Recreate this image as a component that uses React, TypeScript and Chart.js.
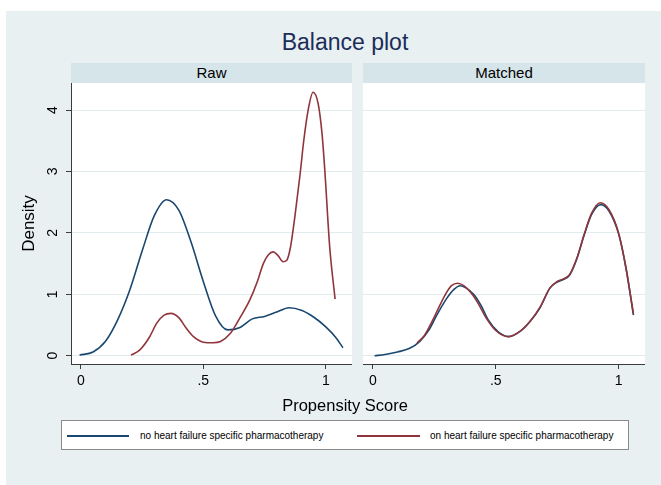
import React, { useEffect, useRef } from 'react';
import { Chart, registerables } from 'chart.js';

Chart.register(...registerables);

// ---------- text ----------
const TITLE = 'Balance plot';
const PANEL_NAMES = ['Raw', 'Matched'];
const SERIES_NAMES = [
  'no heart failure specific pharmacotherapy',
  'on heart failure specific pharmacotherapy',
];
const X_TITLE = 'Propensity Score';
const Y_TITLE = 'Density';
const X_TICKS = [0, 0.5, 1];
const X_TICK_LABELS = ['0', '.5', '1'];
const Y_TICKS = [0, 1, 2, 3, 4];

// ---------- data (kernel density estimates) ----------
// Raw, no HF pharmacotherapy
const rawNoX = [-0.005, 0.05, 0.1, 0.15, 0.2, 0.25, 0.3, 0.35, 0.4, 0.45, 0.5, 0.55, 0.6, 0.65, 0.7, 0.75, 0.8, 0.85, 0.9, 0.95, 1.0, 1.04, 1.07];
const rawNoY = [0.01, 0.06, 0.23, 0.58, 1.07, 1.7, 2.28, 2.54, 2.37, 1.85, 1.21, 0.65, 0.42, 0.46, 0.6, 0.64, 0.71, 0.78, 0.74, 0.63, 0.47, 0.3, 0.13];
// Raw, on HF pharmacotherapy
const rawOnX = [0.205, 0.24, 0.28, 0.31, 0.34, 0.368, 0.4, 0.43, 0.46, 0.5, 0.54, 0.57, 0.61, 0.65, 0.69, 0.72, 0.745, 0.765, 0.785, 0.805, 0.826, 0.84, 0.855, 0.875, 0.895, 0.91, 0.928, 0.948, 0.969, 0.985, 0.996, 1.016, 1.038];
const rawOnY = [0.01, 0.09, 0.3, 0.53, 0.66, 0.69, 0.62, 0.45, 0.31, 0.22, 0.21, 0.23, 0.36, 0.62, 0.91, 1.2, 1.5, 1.64, 1.69, 1.63, 1.53, 1.55, 1.75, 2.3, 2.95, 3.5, 4.0, 4.29, 4.1, 3.6, 3.02, 1.77, 0.92];
// Matched, no HF pharmacotherapy
const matNoX = [0.007, 0.05, 0.1, 0.15, 0.19, 0.23, 0.26, 0.3, 0.33, 0.355, 0.38, 0.41, 0.44, 0.47, 0.51, 0.554, 0.6, 0.64, 0.68, 0.72, 0.75, 0.775, 0.8, 0.83, 0.86, 0.89, 0.927, 0.96, 1.0, 1.03, 1.06];
const matNoY = [0.0, 0.02, 0.06, 0.12, 0.23, 0.43, 0.66, 0.93, 1.08, 1.14, 1.1, 1.0, 0.82, 0.58, 0.39, 0.31, 0.4, 0.56, 0.78, 1.1, 1.2, 1.24, 1.31, 1.58, 1.97, 2.3, 2.46, 2.36, 1.98, 1.42, 0.66];
// Matched, on HF pharmacotherapy
const matOnX = [0.18, 0.21, 0.24, 0.27, 0.3, 0.32, 0.345, 0.37, 0.4, 0.43, 0.46, 0.5, 0.55, 0.6, 0.64, 0.68, 0.72, 0.75, 0.775, 0.8, 0.83, 0.86, 0.89, 0.925, 0.96, 1.0, 1.03, 1.06];
const matOnY = [0.21, 0.33, 0.55, 0.8, 1.03, 1.14, 1.18, 1.14, 1.02, 0.84, 0.62, 0.41, 0.31, 0.4, 0.56, 0.79, 1.1, 1.21, 1.25, 1.32, 1.59, 1.98, 2.32, 2.49, 2.38, 1.99, 1.42, 0.68];

// ---------- styles ----------
const FONT = '"Liberation Sans", Arial, Helvetica, sans-serif';
const BLUE = '#1A476F';
const RED = '#90353B';
const BG = '#E8F0F2';
const STRIP = '#D5E5EA';
const GRID = '#E2ECEF';
const AXIS = '#3c3c3c';
const TITLE_COLOR = '#1B2D58';

const zip = (xs: number[], ys: number[]) => xs.map((x, i) => ({ x, y: ys[i] }));

const noPad = (s: any) => {
  s.paddingTop = 0;
  s.paddingBottom = 0;
  s.paddingLeft = 0;
  s.paddingRight = 0;
};

type PanelProps = {
  left: number;
  width: number;
  showY: boolean;
  noData: { x: number; y: number }[];
  onData: { x: number; y: number }[];
};

function Panel({ left, width, showY, noData, onData }: PanelProps) {
  const ref = useRef<HTMLCanvasElement | null>(null);
  useEffect(() => {
    if (!ref.current) return;
    const chart = new Chart(ref.current, {
      type: 'line',
      data: {
        datasets: [
          {
            label: SERIES_NAMES[0],
            data: noData,
            borderColor: BLUE,
            borderWidth: 1.6,
            pointRadius: 0,
            fill: false,
            cubicInterpolationMode: 'monotone',
            order: 1,
          },
          {
            label: SERIES_NAMES[1],
            data: onData,
            borderColor: RED,
            borderWidth: 1.6,
            pointRadius: 0,
            fill: false,
            cubicInterpolationMode: 'monotone',
            order: 0,
          },
        ],
      },
      options: {
        animation: false,
        responsive: false,
        devicePixelRatio: 1,
        layout: { padding: 0 },
        plugins: { legend: { display: false }, tooltip: { enabled: false } },
        scales: {
          x: {
            type: 'linear',
            min: -0.04,
            max: 1.107,
            afterBuildTicks: (s: any) => {
              s.ticks = X_TICKS.map((v) => ({ value: v }));
            },
            afterFit: (s: any) => {
              s.height = 39;
              noPad(s);
            },
            ticks: {
              autoSkip: false,
              maxRotation: 0,
              minRotation: 0,
              padding: 4,
              color: '#000',
              font: { family: FONT, size: 14 },
              callback: (v: any) => {
                const i = X_TICKS.findIndex((t) => Math.abs(t - Number(v)) < 1e-9);
                return i >= 0 ? X_TICK_LABELS[i] : '';
              },
            },
            grid: {
              drawOnChartArea: false,
              drawTicks: true,
              tickLength: 5,
              tickColor: AXIS,
              tickWidth: 1,
            },
            border: { display: true, color: AXIS, width: 1 },
          },
          y: {
            type: 'linear',
            min: -0.135,
            max: 4.44,
            afterBuildTicks: (s: any) => {
              s.ticks = Y_TICKS.map((v) => ({ value: v }));
            },
            afterFit: (s: any) => {
              s.width = showY ? 71 : 0;
              noPad(s);
            },
            ticks: {
              display: showY,
              minRotation: 90,
              maxRotation: 90,
              crossAlign: 'center',
              padding: 9,
              color: '#000',
              font: { family: FONT, size: 14 },
              callback: (v: any) => String(v),
            },
            grid: {
              color: GRID,
              lineWidth: 1,
              drawTicks: showY,
              tickLength: 5,
              tickColor: AXIS,
              tickWidth: 1,
            },
            border: { display: showY, color: AXIS, width: 1 },
            title: {
              display: showY,
              text: Y_TITLE,
              color: '#000',
              font: { family: FONT, size: 17 },
              padding: { top: 19, bottom: 0 },
            },
          },
        },
      },
    } as any);
    return () => chart.destroy();
  }, []);
  return (
    <canvas
      ref={ref}
      width={width}
      height={320}
      style={{ position: 'absolute', left, top: 83, width, height: 320 }}
    />
  );
}

const abs = (s: React.CSSProperties): React.CSSProperties => ({ position: 'absolute', ...s });

export default function App() {
  return (
    <div
      style={{
        position: 'fixed',
        left: 0,
        top: 0,
        width: 661,
        height: 485,
        background: '#ffffff',
        overflow: 'hidden',
        fontFamily: FONT,
      }}
    >
      <div style={abs({ left: 6, top: 11, width: 655, height: 474, background: BG })} />
      <div
        style={abs({
          left: 0,
          top: 28,
          width: 690,
          height: 28,
          lineHeight: '28px',
          textAlign: 'center',
          fontSize: 23,
          color: TITLE_COLOR,
        })}
      >
        {TITLE}
      </div>
      <div
        style={abs({
          left: 71,
          top: 63,
          width: 281,
          height: 20,
          background: STRIP,
          lineHeight: '20px',
          textAlign: 'center',
          fontSize: 15,
          color: '#000',
        })}
      >
        {PANEL_NAMES[0]}
      </div>
      <div
        style={abs({
          left: 363,
          top: 63,
          width: 282,
          height: 20,
          background: STRIP,
          lineHeight: '20px',
          textAlign: 'center',
          fontSize: 15,
          color: '#000',
        })}
      >
        {PANEL_NAMES[1]}
      </div>
      <div style={abs({ left: 71, top: 83, width: 281, height: 281, background: '#fff' })} />
      <div style={abs({ left: 363, top: 83, width: 282, height: 281, background: '#fff' })} />
      <Panel left={0} width={352} showY={true} noData={zip(rawNoX, rawNoY)} onData={zip(rawOnX, rawOnY)} />
      <Panel left={363} width={282} showY={false} noData={zip(matNoX, matNoY)} onData={zip(matOnX, matOnY)} />
      <div
        style={abs({
          left: 0,
          top: 395,
          width: 690,
          height: 20,
          lineHeight: '20px',
          textAlign: 'center',
          fontSize: 16.5,
          color: '#000',
        })}
      >
        {X_TITLE}
      </div>
      <div
        style={abs({
          left: 61,
          top: 420,
          width: 566,
          height: 28,
          background: '#fff',
          border: '1px solid #8a8a8a',
        })}
      />
      <div style={abs({ left: 67, top: 435, width: 62, height: 2, background: BLUE })} />
      <div style={abs({ left: 140, top: 428, height: 16, lineHeight: '16px', fontSize: 10, color: '#000', whiteSpace: 'nowrap' })}>
        {SERIES_NAMES[0]}
      </div>
      <div style={abs({ left: 357, top: 435, width: 63, height: 2, background: RED })} />
      <div style={abs({ left: 430, top: 428, height: 16, lineHeight: '16px', fontSize: 10, color: '#000', whiteSpace: 'nowrap' })}>
        {SERIES_NAMES[1]}
      </div>
    </div>
  );
}
